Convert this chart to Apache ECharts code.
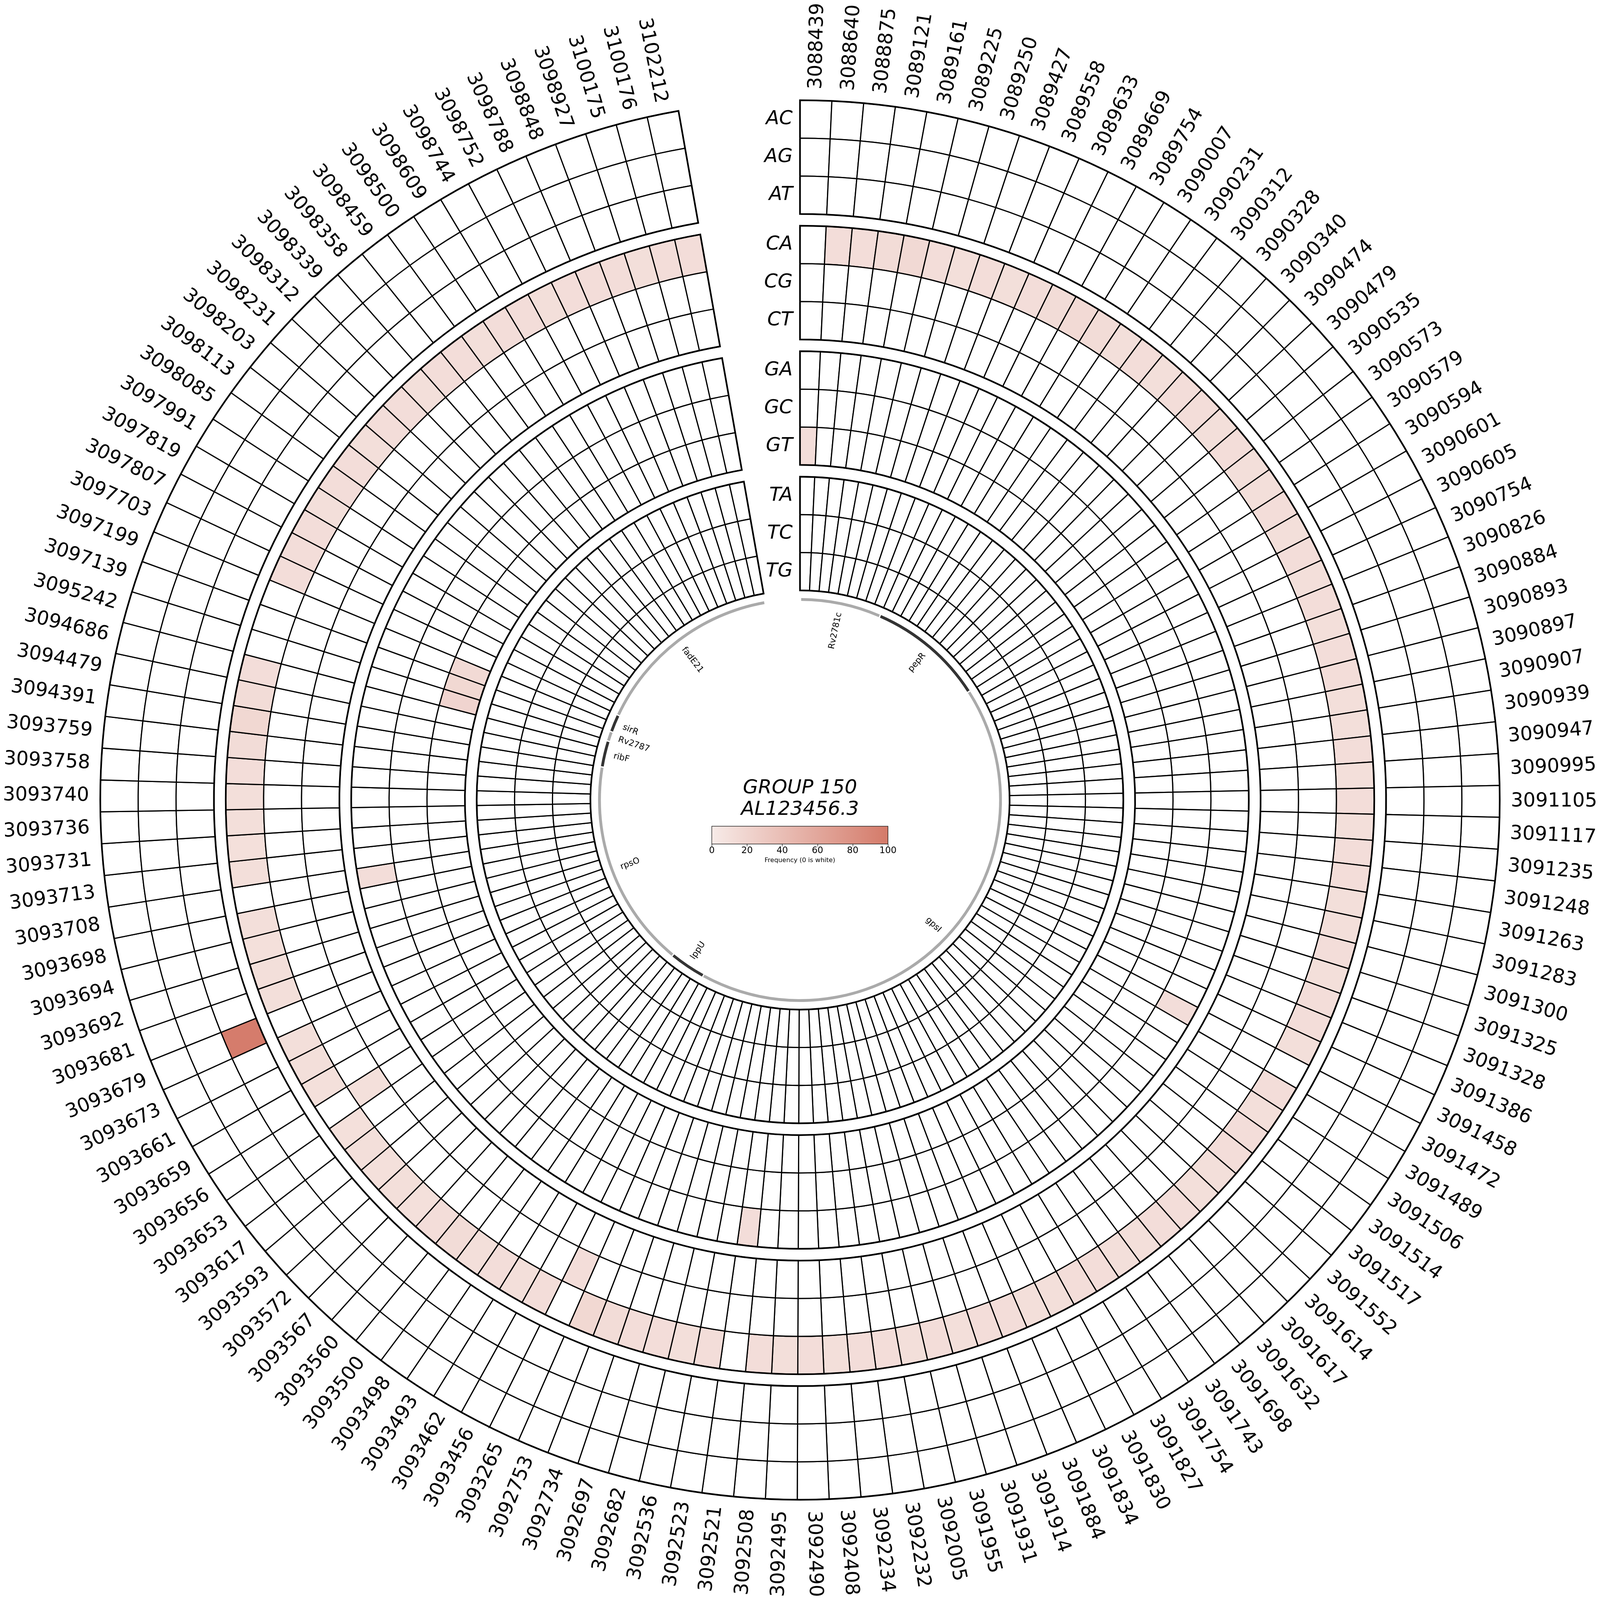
<!DOCTYPE html>
<html>
<head>
<meta charset="utf-8">
<script src="https://cdn.jsdelivr.net/npm/echarts@6.0.0/dist/echarts.min.js"></script>
<style>
html,body{margin:0;padding:0;background:#ffffff;overflow:hidden;}
#chart{width:100vw;height:100vh;}
</style>
</head>
<body>
<div id="chart"></div>
<script>
// ---------------- DATA ----------------
const positions = [
'3088439','3088640','3088875','3089121','3089161','3089225','3089250','3089427','3089558','3089633',
'3089669','3089754','3090007','3090231','3090312','3090328','3090340','3090474','3090479','3090535',
'3090573','3090579','3090594','3090601','3090605','3090754','3090826','3090884','3090893','3090897',
'3090907','3090939','3090947','3090995','3091105','3091117','3091235','3091248','3091263','3091283',
'3091300','3091325','3091328','3091386','3091458','3091472','3091489','3091506','3091514','3091517',
'3091552','3091614','3091617','3091632','3091698','3091743','3091754','3091827','3091830','3091834',
'3091884','3091914','3091931','3091955','3092005','3092232','3092234','3092408','3092490','3092495',
'3092508','3092521','3092523','3092536','3092682','3092697','3092734','3092753','3093265','3093456',
'3093462','3093493','3093498','3093500','3093560','3093567','3093572','3093593','3093617','3093653',
'3093656','3093659','3093661','3093673','3093679','3093681','3093692','3093694','3093698','3093708',
'3093713','3093731','3093736','3093740','3093758','3093759','3094391','3094479','3094686','3095242',
'3097139','3097199','3097703','3097807','3097819','3097991','3098085','3098113','3098203','3098231',
'3098312','3098339','3098358','3098459','3098500','3098609','3098744','3098752','3098788','3098848',
'3098927','3100175','3100176','3102212'
];

const ringNames = ['AC','AG','AT','CA','CG','CT','GA','GC','GT','TA','TC','TG'];

// substitution observed at each position (one coloured cell per position)
const mutationType = [
'GT','CA','CA','CA','CA','CA','CA','CA','CA','CA',
'CA','CA','CA','CA','CA','CA','CA','CA','CA','CA',
'CA','CA','CA','CA','CA','CA','CA','CA','CA','CA',
'CA','CA','CA','CA','CA','CA','CA','CA','CA','CA',
'CA','CA','CA','CA','CA','GA','CA','CA','CA','CA',
'CA','CA','CA','CA','CA','CA','CA','CA','CA','CA',
'CA','CA','CA','CA','CA','CA','CA','CA','CA','CA',
'CA','GA','CA','CA','CA','CA','CA','CA','CG','CA',
'CA','CA','CA','CA','CA','CA','CA','CA','CA','CA',
'CG','CA','CA','CA','AT','CA','CA','CA','CA','GA',
'CA','CA','CA','CA','CA','CA','CA','CA','CA','GT',
'GT','GT','CA','CA','CA','CA','CA','CA','CA','CA',
'CA','CA','CA','CA','CA','CA','CA','CA','CA','CA',
'CA','CA','CA','CA'
];

// frequency (%) of that substitution at each position
const frequency = [
12,12,12,13,16,12,11,12,11,12,
13,15,13,11,12,11,12,12,11,12,
11,11,12,11,12,11,12,11,12,12,
11,11,12,11,12,11,12,12,11,11,
12,11,12,12,11,12,12,11,12,12,
11,11,12,12,11,11,12,12,11,11,
12,12,11,12,11,12,12,11,12,11,
12,12,12,11,12,12,13,17,12,12,
11,12,11,13,12,10,11,10,11,10,
10,10,11,11,98,11,11,10,11,12,
11,10,11,11,12,13,17,13,12,20,
17,15,12,12,12,11,12,12,11,12,
12,11,12,12,11,12,12,11,12,12,
12,11,12,12
];

// gene annotation, in track units (position index along the ring)
const geneNames = ['Rv2781c','pepR','gpsI','lppU','rpsO','ribF','Rv2787','sirR','fadE21'];
const geneStart = [0.13, 9.06, 22.01, 80.03, 84.05, 107.07, 109.97, 111.06, 113.01];
const geneEnd   = [8.92, 21.87, 79.89, 83.91, 106.93, 109.83, 110.92, 112.87, 133.90];

const colorbarMin = 0, colorbarMax = 100, colorbarStep = 20;
const centerTitle = ['GROUP 150', 'AL123456.3'];
const colorbarLabel = 'Frequency (0 is white)';

// ---------------- LAYOUT / STYLE ----------------
const W = window.innerWidth, H = window.innerHeight;
const S = Math.min(W, H) / 6766;   // design size is 6766 px
const FONT = 'DejaVu Sans';
const N = positions.length;
const SPAN_DEG = 350;
const ANGLE_MAX = N * 360 / SPAN_DEG;
const R_OUT = 2959 * S, RING_T = 160.3 * S, GROUP_STEP = 530.6 * S;
const R_LABEL = 3006 * S, R_GENE = 848 * S, GENE_T = 12 * S, R_GENE_LABEL = 810 * S;
const RING_LABEL_DX = 31 * S;
const C0 = '#f7ebe8', C1 = '#d47a69';

function ringOuter(k) {
  const g = Math.floor(k / 3), j = k % 3;
  return R_OUT - g * GROUP_STEP - j * RING_T;
}

const cells = [];
for (let k = 0; k < ringNames.length; k++) {
  for (let i = 0; i < N; i++) {
    cells.push([i, k, mutationType[i] === ringNames[k] ? frequency[i] : 0]);
  }
}

function sectorShape(cs, r0, r, a0, a1) {
  return { cx: cs.cx, cy: cs.cy, r0: r0, r: r, startAngle: -a0[3], endAngle: -a1[3], clockwise: true };
}

function renderCell(params, api) {
  const i = api.value(0), k = api.value(1), v = api.value(2);
  const ro = ringOuter(k), ri = ro - RING_T;
  const a0 = api.coord([ro, i]), a1 = api.coord([ro, i + 1]);
  return {
    type: 'sector',
    shape: sectorShape(params.coordSys, ri, ro, a0, a1),
    style: { fill: v > 0 ? api.visual('color') : '#ffffff', stroke: '#000000', lineWidth: 5 * S }
  };
}

function renderOutline(params, api) {
  const g = api.value(0);
  const ro = R_OUT - g * GROUP_STEP, ri = ro - 3 * RING_T;
  const a0 = api.coord([ro, 0]), a1 = api.coord([ro, N]);
  return {
    type: 'sector',
    shape: sectorShape(params.coordSys, ri, ro, a0, a1),
    style: { fill: 'none', stroke: '#000000', lineWidth: 7 * S }
  };
}

function renderPosLabel(params, api) {
  const i = api.value(0);
  const p = api.coord([R_LABEL, i + 0.5]);
  const a = p[3];
  const right = Math.cos(a) > 0;
  return {
    type: 'text', x: p[0], y: p[1], rotation: right ? a : a + Math.PI,
    style: { text: positions[i], fontSize: 82 * S, fontFamily: FONT, fill: '#000000',
      align: right ? 'left' : 'right', verticalAlign: 'middle' }
  };
}

function renderRingLabel(params, api) {
  const k = api.value(0);
  const p = api.coord([ringOuter(k) - RING_T / 2, 0]);
  return {
    type: 'text', x: p[0] - RING_LABEL_DX, y: p[1],
    style: { text: ringNames[k], fontSize: 82 * S, fontStyle: 'italic', fontFamily: FONT, fill: '#000000',
      align: 'right', verticalAlign: 'middle' }
  };
}

function renderGene(params, api) {
  const g = api.value(0);
  const a0 = api.coord([R_GENE, geneStart[g]]), a1 = api.coord([R_GENE, geneEnd[g]]);
  return {
    type: 'sector',
    shape: sectorShape(params.coordSys, R_GENE - GENE_T / 2, R_GENE + GENE_T / 2, a0, a1),
    style: { fill: g % 2 ? '#333333' : '#aaaaaa' }
  };
}

function renderGeneLabel(params, api) {
  const g = api.value(0);
  const p = api.coord([R_GENE_LABEL, (geneStart[g] + geneEnd[g]) / 2]);
  const a = p[3];
  const right = Math.cos(a) > 0;
  return {
    type: 'text', x: p[0], y: p[1], rotation: right ? a : a + Math.PI,
    style: { text: geneNames[g], fontSize: 36 * S, fontFamily: FONT, fill: '#000000',
      align: right ? 'right' : 'left', verticalAlign: 'middle' }
  };
}

function renderColorbar(params, api) {
  const p0 = api.coord([colorbarMin, 0]), p1 = api.coord([colorbarMax, 1]);
  return {
    type: 'rect',
    shape: { x: p0[0], y: p1[1], width: p1[0] - p0[0], height: p0[1] - p1[1] },
    style: {
      fill: new echarts.graphic.LinearGradient(0, 0, 1, 0, [{ offset: 0, color: C0 }, { offset: 1, color: C1 }]),
      stroke: '#000000', lineWidth: 2 * S
    }
  };
}

const chart = echarts.init(document.getElementById('chart'), null, { renderer: 'canvas' });
const offX = (W - 6766 * S) / 2, offY = (H - 6766 * S) / 2;

const option = {
  backgroundColor: '#ffffff',
  animation: false,
  graphic: centerTitle.map((t, n) => ({
    type: 'text', x: W / 2, y: H / 2 + (n === 0 ? -50 : 41) * S, silent: true,
    style: { text: t, fontSize: 83 * S, fontStyle: 'italic', fontWeight: 'normal', fontFamily: FONT,
      fill: '#000000', align: 'center', verticalAlign: 'middle' }
  })),
  polar: { center: ['50%', '50%'], radius: [0, R_OUT] },
  angleAxis: { type: 'value', min: 0, max: ANGLE_MAX, startAngle: 90, clockwise: true, show: false },
  radiusAxis: { type: 'value', min: 0, max: R_OUT, show: false },
  grid: { left: offX + 3010 * S, top: offY + 3494 * S, width: 745 * S, height: 75 * S },
  xAxis: {
    type: 'value', min: colorbarMin, max: colorbarMax, interval: colorbarStep,
    axisLine: { show: false },
    axisTick: { show: true, length: 10 * S, lineStyle: { color: '#000000', width: 2 * S } },
    axisLabel: { fontSize: 38 * S, color: '#000000', fontFamily: FONT, margin: 10 * S },
    splitLine: { show: false },
    name: colorbarLabel, nameLocation: 'middle', nameGap: 56 * S,
    nameTextStyle: { fontSize: 27 * S, color: '#000000', fontFamily: FONT }
  },
  yAxis: { type: 'value', min: 0, max: 1, show: false },
  visualMap: {
    type: 'continuous', show: false, min: colorbarMin, max: colorbarMax,
    dimension: 2, seriesIndex: 0, inRange: { color: [C0, C1] }
  },
  series: [
    { type: 'custom', coordinateSystem: 'polar', renderItem: renderCell, data: cells, silent: true },
    { type: 'custom', coordinateSystem: 'polar', renderItem: renderOutline, data: [[0, 0], [1, 1], [2, 2], [3, 3]], silent: true },
    { type: 'custom', coordinateSystem: 'polar', renderItem: renderPosLabel, data: positions.map((_, i) => [i, i]), silent: true },
    { type: 'custom', coordinateSystem: 'polar', renderItem: renderRingLabel, data: ringNames.map((_, k) => [k, k]), silent: true },
    { type: 'custom', coordinateSystem: 'polar', renderItem: renderGene, data: geneNames.map((_, g) => [g, g]), silent: true },
    { type: 'custom', coordinateSystem: 'polar', renderItem: renderGeneLabel, data: geneNames.map((_, g) => [g, g]), silent: true },
    { type: 'custom', coordinateSystem: 'cartesian2d', renderItem: renderColorbar, data: [[0, 0]], silent: true }
  ]
};
chart.setOption(option);
</script>
</body>
</html>
